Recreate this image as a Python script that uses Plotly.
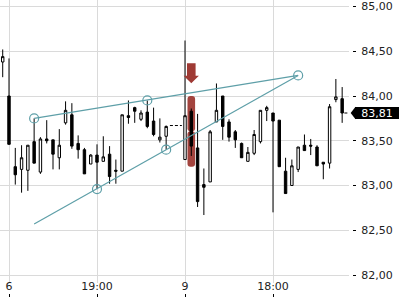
import plotly.graph_objects as go

# ---------------- data ----------------
bar_index = list(range(-1, 26)) + list(range(28, 54))
opens = [84.38, 84.00, 83.21, 83.18, 83.17, 83.49, 83.15, 83.52, 83.51, 83.31,
         83.70, 83.79, 83.47, 83.40, 83.24, 83.34, 83.27, 83.35, 83.17, 83.16,
         83.78, 83.87, 83.74, 83.82, 83.72, 83.51, 83.55,
         83.29, 83.83, 83.42, 83.01, 83.04, 83.71, 84.00, 83.71, 83.60, 83.47,
         83.27, 83.36, 83.49, 83.84, 83.81, 83.73, 83.16, 83.00, 83.18, 83.45,
         83.45, 83.43, 83.26, 83.25, 83.96, 83.97]
highs = [84.52, 84.42, 83.42, 83.45, 83.45, 83.75, 83.54, 83.73, 83.51, 83.63,
         83.94, 83.92, 83.56, 83.42, 83.35, 83.46, 83.55, 83.44, 83.29, 83.79,
         83.95, 83.88, 83.84, 83.95, 83.87, 83.75, 83.67,
         84.62, 83.86, 83.80, 83.19, 83.62, 84.14, 84.00, 83.74, 83.62, 83.48,
         83.43, 83.62, 83.84, 83.89, 83.81, 83.73, 83.31, 83.29, 83.43, 83.57,
         83.52, 83.45, 83.26, 83.91, 84.19, 84.10]
lows = [84.21, 83.46, 83.01, 82.92, 82.94, 83.25, 83.13, 83.47, 83.18, 83.18,
        83.68, 83.41, 83.30, 83.13, 83.24, 82.96, 83.27, 83.02, 83.02, 83.16,
        83.69, 83.70, 83.72, 83.64, 83.55, 83.48, 83.40,
        83.29, 83.33, 82.76, 82.67, 83.04, 83.71, 83.51, 83.49, 83.42, 83.31,
        83.27, 83.34, 83.47, 83.72, 82.70, 83.21, 82.91, 83.00, 83.15, 83.39,
        83.34, 83.22, 83.07, 83.19, 83.93, 83.70]
closes = [84.44, 83.46, 83.12, 83.31, 83.45, 83.25, 83.52, 83.50, 83.35, 83.45,
          83.84, 83.44, 83.40, 83.13, 83.34, 83.26, 83.32, 83.10, 83.16, 83.79,
          83.76, 83.83, 83.81, 83.66, 83.57, 83.54, 83.66,
          83.78, 83.44, 82.82, 82.98, 83.60, 83.84, 83.66, 83.54, 83.51, 83.31,
          83.37, 83.57, 83.84, 83.87, 83.72, 83.21, 82.91, 83.22, 83.43, 83.39,
          83.44, 83.22, 83.24, 83.88, 83.99, 83.81]

tick_vals = [0, 14, 28, 42]
tick_text = ["6", "19:00", "9", "18:00"]
y_ticks = [82.0, 82.5, 83.0, 83.5, 84.0, 84.5, 85.0]

# trend lines (triangle) and their touch points
upper_line_x = [4, 46]
upper_line_y = [83.75, 84.23]
lower_line_x = [4, 46]
lower_line_y = [82.57, 84.23]
touch_x = [4, 22, 14, 25, 46]
touch_y = [83.75, 83.95, 82.96, 83.40, 84.23]

# session gap marker
gap_x = [25.6, 27.5]
gap_y = [83.67, 83.67]

# signal
signal_x = 29
signal_top = 84.00
signal_bottom = 83.21

# ---------------- layout geometry ----------------
W, H = 400, 300
M_R, M_B = 48, 3
plot_w = W - M_R
grid_w = 349
x_dom_end = grid_w / plot_w
px_per_bar = 6.286
x_lo = -9 / px_per_bar
x_hi = x_lo + grid_w / px_per_bar
plot_h = H - M_B
grid_h = 283
y_dom_start = (plot_h - grid_h) / plot_h
px_per_unit = 89.5
y_hi = 85 + 6.5 / px_per_unit
y_lo = y_hi - grid_h / px_per_unit

TEAL = "#5e9fa8"
RED = "#9f3a34"

fig = go.Figure()

# red signal bar (rounded both ends)
mid = (signal_top + signal_bottom) / 2
half = (signal_top - signal_bottom) / 2
fig.add_trace(go.Bar(
    x=[signal_x, signal_x], base=[mid, mid], y=[half, -half],
    width=7.6 / px_per_bar, marker=dict(color=RED, cornerradius=4, line=dict(width=0)),
    opacity=0.95, hoverinfo="skip", showlegend=False))

fig.add_trace(go.Candlestick(
    x=bar_index, open=opens, high=highs, low=lows, close=closes,
    increasing=dict(fillcolor="white", line=dict(color="black", width=1)),
    decreasing=dict(fillcolor="black", line=dict(color="black", width=1)),
    whiskerwidth=0, showlegend=False, hoverinfo="skip"))

fig.add_trace(go.Scatter(x=gap_x, y=gap_y, mode="lines",
                         line=dict(color="black", width=1, dash="3px,2px"),
                         showlegend=False, hoverinfo="skip"))

fig.add_trace(go.Scatter(x=[bar_index[-1] + 0.35, x_hi], y=[closes[-1], closes[-1]],
                         mode="lines", line=dict(color="black", width=1, dash="3px,2px"),
                         showlegend=False, hoverinfo="skip"))

for lx, ly in ((upper_line_x, upper_line_y), (lower_line_x, lower_line_y)):
    fig.add_trace(go.Scatter(x=lx, y=ly, mode="lines",
                             line=dict(color=TEAL, width=1.2),
                             showlegend=False, hoverinfo="skip"))

fig.add_trace(go.Scatter(x=touch_x, y=touch_y, mode="markers",
                         marker=dict(symbol="circle-open", size=9, color=TEAL,
                                     line=dict(width=1.2, color=TEAL)),
                         showlegend=False, hoverinfo="skip"))

# invisible trace so the bottom tick-mark axis is drawn
fig.add_trace(go.Scatter(x=tick_vals, y=[None] * len(tick_vals), xaxis="x2", yaxis="y",
                         mode="markers", marker=dict(opacity=0),
                         showlegend=False, hoverinfo="skip"))

# arrow above signal bar
dxp = lambda p: p / px_per_bar
dyp = lambda p: p / px_per_unit
tip = signal_top + dyp(12.7)
neck = tip + dyp(7.6)
top = neck + dyp(12.4)
sx = signal_x
pts = [(sx - dxp(4.3), top), (sx + dxp(4.3), top), (sx + dxp(4.3), neck),
       (sx + dxp(7.6), neck), (sx, tip), (sx - dxp(7.6), neck), (sx - dxp(4.3), neck)]
path = "M " + " L ".join(f"{a},{b}" for a, b in pts) + " Z"
shapes = [dict(type="path", xref="x", yref="y", path=path, fillcolor=RED,
               line=dict(width=0), layer="above")]

# price label pointer
last = closes[-1]
tri_tip = 350.7 / plot_w
tri_base = 355.5 / plot_w
shapes.append(dict(type="path", xref="paper", yref="y",
                   path=f"M {tri_tip},{last} L {tri_base},{last + dyp(6.2)} L {tri_base},{last - dyp(6.2)} Z",
                   fillcolor="black", line=dict(width=0), layer="above"))

annotations = [dict(xref="paper", yref="y", x=355 / plot_w, y=last, xanchor="left",
                    yanchor="middle", text=f"{last:.2f}".replace(".", ","),
                    showarrow=False, bgcolor="black", font=dict(color="white", size=11,
                    family="DejaVu Sans"), width=44, height=12, borderpad=0, borderwidth=0)]

FONT = dict(family="DejaVu Sans", size=11, color="#222")

fig.update_layout(
    width=W, height=H,
    margin=dict(l=0, r=M_R, t=0, b=M_B),
    paper_bgcolor="white", plot_bgcolor="white",
    separators=",.",
    showlegend=False,
    boxgap=0.45,
    barmode="overlay",
    shapes=shapes,
    annotations=annotations,
    font=FONT,
    xaxis=dict(domain=[0, x_dom_end], range=[x_lo, x_hi], anchor="y",
               tickvals=tick_vals, ticktext=tick_text, ticks="",
               ticklabelstandoff=-5,
               showgrid=True, gridcolor="#dadada", gridwidth=1,
               zeroline=False, showline=False, rangeslider=dict(visible=False),
               tickfont=FONT),
    xaxis2=dict(overlaying="x", anchor="free", position=0, range=[x_lo, x_hi],
                tickvals=tick_vals, ticks="inside", ticklen=3, tickcolor="black",
                tickwidth=1, showticklabels=False, showgrid=False, zeroline=False,
                showline=False),
    yaxis=dict(domain=[y_dom_start, 1], range=[y_lo, y_hi], side="right",
               anchor="free", position=1, tickvals=y_ticks, tickformat=".2f",
               ticks="outside", ticklen=3, tickcolor="black", tickwidth=1,
               ticklabelstandoff=3,
               showgrid=True, gridcolor="#dadada", gridwidth=1,
               zeroline=False, showline=False, tickfont=FONT),
)

fig.write_html("out.html")
